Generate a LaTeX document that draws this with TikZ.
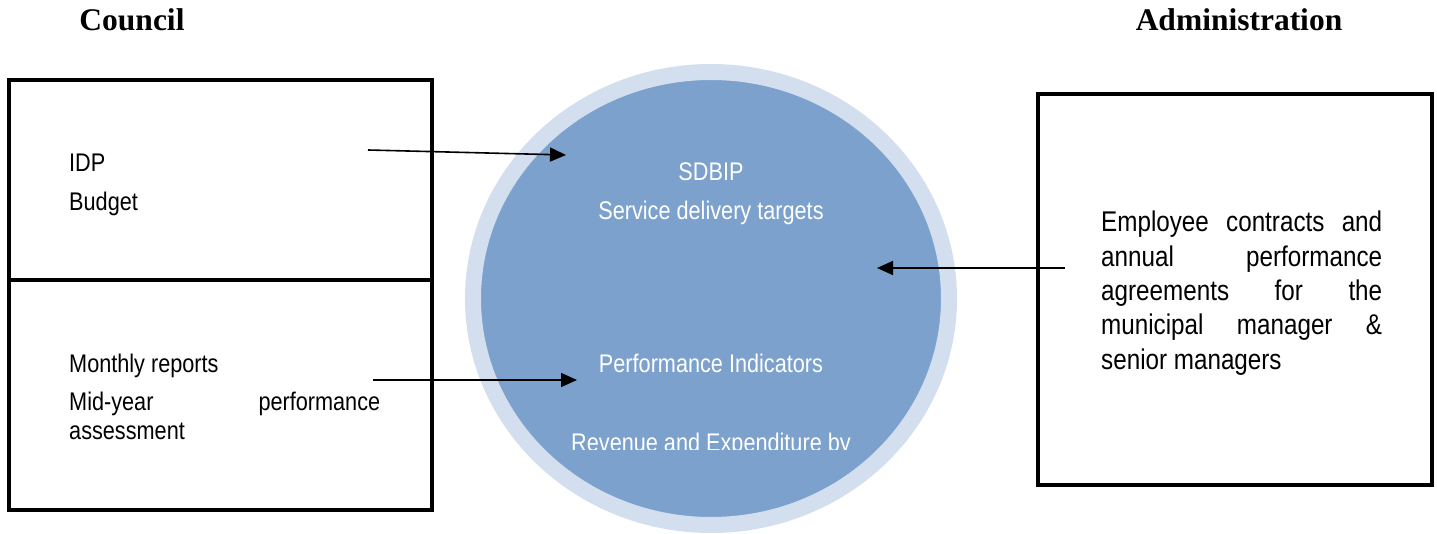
\documentclass[tikz,border=0pt]{standalone}
\usepackage{fontspec}
\setmainfont{Liberation Serif}
\newfontfamily\narrowsans{Liberation Sans}[FakeStretch=0.85]
\usepackage{tikz}
\usetikzlibrary{arrows.meta,shapes.geometric}

\definecolor{ringblue}{RGB}{211,223,238}
\definecolor{planblue}{RGB}{123,161,204}

\begin{document}
\begin{tikzpicture}[x=1pt,y=-1pt,
    panel/.style={draw=black,line width=4pt,inner sep=0pt},
    heading/.style={font=\fontsize{31.5}{36}\selectfont\bfseries,anchor=base},
    item/.style={font=\narrowsans\fontsize{25.5}{29}\selectfont,anchor=base west,inner sep=0pt},
    intext/.style={font=\narrowsans\fontsize{25.5}{29}\selectfont,text=white,anchor=base,inner sep=0pt},
    flow/.style={-{Triangle[length=16pt,width=14pt]},line width=1.6pt}]
  \useasboundingbox (0,0) rectangle (1437,534);

  % headings
  \node[heading] (council) at (132,31) {Council};
  \node[heading] (administration) at (1239,31) {Administration};

  % council side
  \node[panel,minimum width=423pt,minimum height=200pt] (plans) at (220.5,180) {};
  \node[panel,minimum width=423pt,minimum height=230pt] (reports) at (220.5,395) {};
  \node[item] (idp) at (69,172) {IDP};
  \node[item] (budget) at (69,211) {Budget};
  \node[item] (monthly) at (69,372) {Monthly reports};
  \node[item,text width=311pt,align=justify] (midyear) at (69,410.5)
    {Mid-year performance\linebreak assessment};

  % sdbip
  \node[ellipse,fill=planblue,draw=ringblue,line width=16pt,inner sep=0pt,
    minimum width=476pt,minimum height=453pt] (sdbip) at (711,298.5) {};
  \node[intext] (sdbiptitle) at (711,181) {SDBIP};
  \node[intext] (targets) at (711,220) {Service delivery targets};
  \node[intext] (indicators) at (711,373) {Performance Indicators};
  \begin{scope}
    \clip (0,0) rectangle (1437,449);
    \node[intext] (revenue) at (711,451) {Revenue and Expenditure by};
  \end{scope}

  % administration side
  \node[panel,minimum width=394pt,minimum height=391pt] (admin) at (1235,289.5) {};
  \node[item,text width=281pt,align=justify,
    font=\narrowsans\fontsize{28.5}{34.3}\selectfont] (contracts) at (1101,232)
    {Employee contracts and\linebreak annual performance\linebreak agreements for the\linebreak municipal manager \&\linebreak senior managers};

  % arrows
  \coordinate (plansout) at (368,150);
  \coordinate (plansin) at (566,155);
  \coordinate (reportsout) at (373,380);
  \coordinate (reportsin) at (577,380);
  \coordinate (adminout) at (1065,268);
  \coordinate (adminin) at (877,268);
  \draw[flow] (plansout) -- (plansin);
  \draw[flow] (reportsout) -- (reportsin);
  \draw[flow] (adminout) -- (adminin);
\end{tikzpicture}
\end{document}
